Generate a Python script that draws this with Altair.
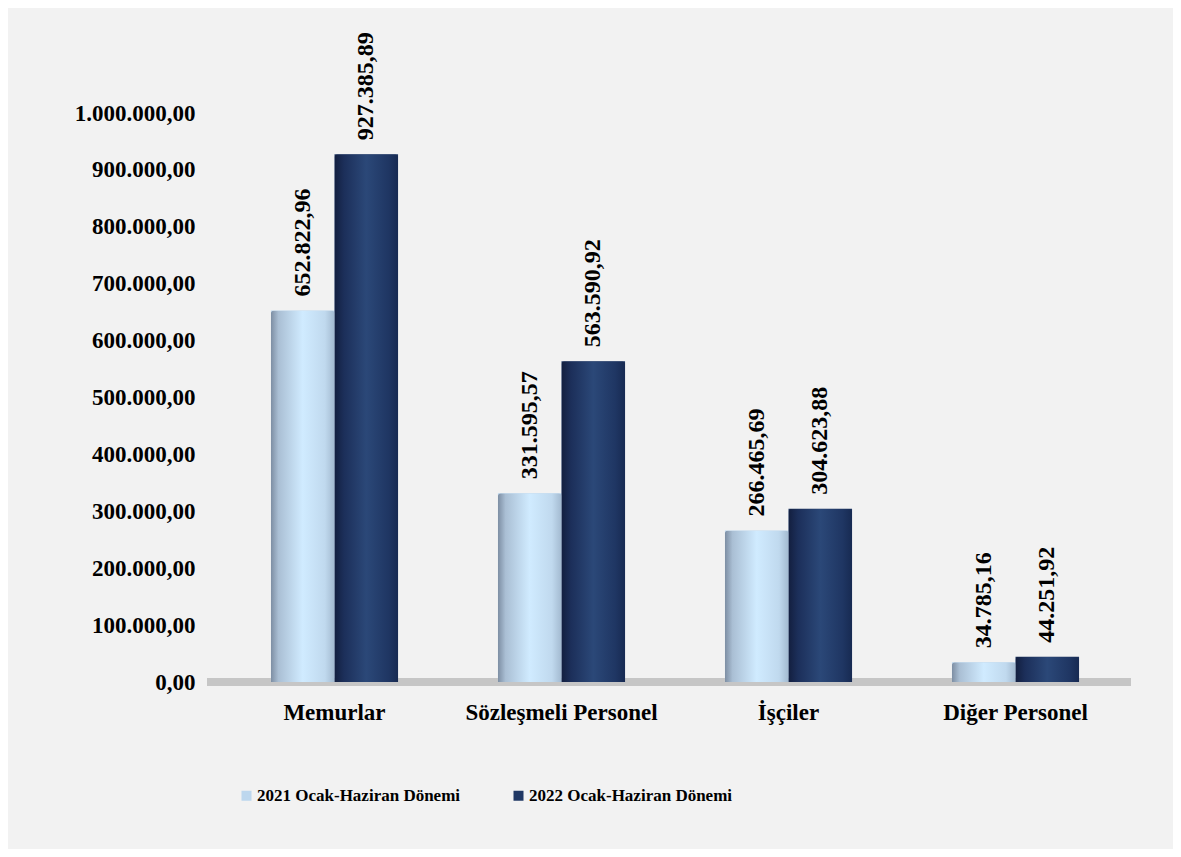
import altair as alt
import pandas as pd

categories = ["Memurlar", "Sözleşmeli Personel", "İşçiler", "Diğer Personel"]
series = ["2021 Ocak-Haziran Dönemi", "2022 Ocak-Haziran Dönemi"]
values_2021 = [652822.96, 331595.57, 266465.69, 34785.16]
values_2022 = [927385.89, 563590.92, 304623.88, 44251.92]
y_ticks = [0, 100000, 200000, 300000, 400000, 500000, 600000, 700000, 800000, 900000, 1000000]

rows = []
for c, v in zip(categories, values_2021):
    rows.append({"cat": c, "series": series[0], "value": v})
for c, v in zip(categories, values_2022):
    rows.append({"cat": c, "series": series[1], "value": v})
df = pd.DataFrame(rows)

FONT = "Liberation Serif"
light_flat = "#bdd7ee"
dark_flat = "#203864"

light_grad = alt.Gradient(
    gradient="linear", x1=0, y1=0, x2=1, y2=0,
    stops=[
        alt.GradientStop(offset=0, color="#7d8ea3"),
        alt.GradientStop(offset=0.12, color="#aabfd4"),
        alt.GradientStop(offset=0.5, color="#d0ebff"),
        alt.GradientStop(offset=0.85, color="#c0d9ee"),
        alt.GradientStop(offset=1, color="#a3bad0"),
    ],
)
dark_grad = alt.Gradient(
    gradient="linear", x1=0, y1=0, x2=1, y2=0,
    stops=[
        alt.GradientStop(offset=0, color="#131f3f"),
        alt.GradientStop(offset=0.15, color="#1c2f5a"),
        alt.GradientStop(offset=0.5, color="#2b4878"),
        alt.GradientStop(offset=0.85, color="#1f3663"),
        alt.GradientStop(offset=1, color="#172a52"),
    ],
)

x_enc = alt.X(
    "cat:N", sort=categories, title=None,
    scale=alt.Scale(paddingInner=0.44, paddingOuter=0.22),
    axis=alt.Axis(labelAngle=0, ticks=False, domain=False, labelPadding=19,
                  labelFont=FONT, labelFontSize=23, labelFontWeight="bold",
                  labelColor="#000000", labelLimit=0),
)
xo_enc = alt.XOffset("series:N", sort=series)
y_enc = alt.Y(
    "value:Q", title=None,
    scale=alt.Scale(domain=[0, 1000000], nice=False),
    axis=alt.Axis(values=y_ticks, format=",.2f", ticks=False, domain=False, grid=False,
                  labelPadding=26, labelFont=FONT, labelFontSize=23,
                  labelFontWeight="bold", labelColor="#000000", labelLimit=0),
)

base = alt.Chart(df)

floor = base.mark_rule(color="#c6c6c6", strokeWidth=8).encode(
    y=alt.datum(0), x=alt.value(-14), x2=alt.value(910)
)

bars = base.mark_bar().encode(
    x=x_enc, xOffset=xo_enc, y=y_enc,
    color=alt.Color(
        "series:N", sort=series, title=None,
        scale=alt.Scale(domain=series, range=[light_flat, dark_flat]),
        legend=alt.Legend(
            orient="none", legendX=17, legendY=674, direction="horizontal",
            symbolType="square", symbolSize=100, symbolStrokeWidth=0,
            labelFont=FONT, labelFontSize=17, labelFontWeight="bold",
            labelColor="#000000", columnPadding=49, labelOffset=2, labelLimit=0,
        ),
    ),
)

bars_light = base.transform_filter(alt.datum.series == series[0]).mark_bar(
    fill=light_grad, cornerRadiusTopLeft=3, cornerRadiusTopRight=3
).encode(x=x_enc, xOffset=xo_enc, y=y_enc)

bars_dark = base.transform_filter(alt.datum.series == series[1]).mark_bar(
    fill=dark_grad, cornerRadiusTopLeft=3, cornerRadiusTopRight=3
).encode(x=x_enc, xOffset=xo_enc, y=y_enc)

labels = base.mark_text(
    angle=270, align="left", baseline="middle", dx=14,
    font=FONT, fontSize=24, fontWeight="bold", color="#000000",
).encode(
    x=x_enc, xOffset=xo_enc, y=y_enc,
    text=alt.Text("value:Q", format=",.2f"),
)

chart = alt.layer(floor, bars, bars_light, bars_dark, labels).properties(
    width=908, height=569,
    background="#f2f2f2",
    padding={"left": 213, "top": 105, "right": 44, "bottom": 167},
    autosize=alt.AutoSizeParams(type="none"),
).configure(
    locale=alt.Locale(number=alt.NumberLocale(decimal=",", thousands=".", grouping=[3], currency=["", ""]))
).configure_view(stroke=None)

chart.save("out.html", embed_options={"renderer": "svg", "actions": False})
